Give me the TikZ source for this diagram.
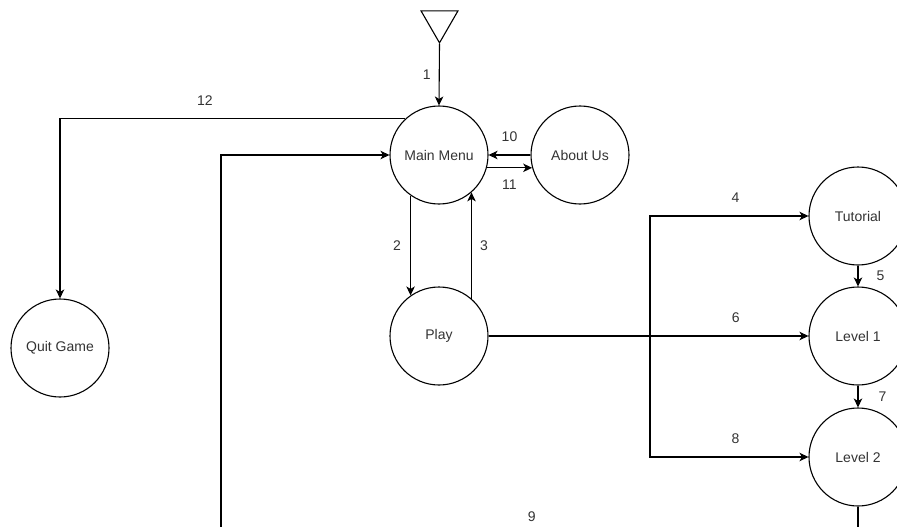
\documentclass[tikz,border=0pt]{standalone}
\usepackage{fontspec}
\setmainfont{Liberation Sans}
\usetikzlibrary{%
		arrows.meta%
		,shapes.geometric%
	}
\definecolor{labelgray}{RGB}{51,51,51}
\tikzset{
	every node/.style={font=\fontsize{14}{16}\selectfont},
	state/.style={draw, circle, minimum size=98pt, inner sep=0pt, line width=1.1pt, text=labelgray},
	entry/.style={draw, regular polygon, regular polygon sides=3, shape border rotate=180, minimum size=42.7pt, inner sep=0pt, line width=1.1pt},
	flow/.style={line width=1.1pt, -{Stealth[length=9pt,width=8.5pt,inset=2.5pt]}},
	num/.style={text=labelgray, inner sep=2pt},
}

\begin{document}
\begin{tikzpicture}[x=1pt,y=-1pt]
			\clip (0,0) rectangle (897,527);
			\node[entry] (start) at (439.5,21.5) {};
			\node[state] (menu) at (439,155) {Main Menu};
			\node[state] (about) at (580,155) {About Us};
			\node[state] (play) at (439,336) {Play};
			\node[state] (quit) at (60,348) {Quit Game};
			\node[state] (tut) at (858,216) {Tutorial};
			\node[state] (lvl1) at (858,336) {Level 1};
			\node[state] (lvl2) at (858,457) {Level 2};
			\coordinate (split) at (650,336);
			\coordinate (back) at (221,537);

			\draw[flow] (start.south) -- (menu.north) node[num,left=6pt,midway]{1};
			\draw[flow] (menu.235) -- (play.125) node[num,left=7pt,midway]{2};
			\draw[flow] (play.49) -- (menu.311) node[num,right=6pt,midway]{3};
			\draw[flow] (split) |- (tut.west) node[num,above=11pt,pos=0.77]{4};
			\draw[flow] (tut.south) -- (lvl1.north) node[num,right=16pt,midway]{5};
			\draw[flow] (play.east) -- (lvl1.west) node[num,above=11pt,pos=0.773]{6};
			\draw[flow] (lvl1.south) -- (lvl2.north) node[num,right=18pt,midway]{7};
			\draw[flow] (split) |- (lvl2.west) node[num,above=11pt,pos=0.77]{8};
			\draw[flow] (lvl2.south) |- (back) node[num,above=13pt,pos=0.756]{9} |- (menu.west);
			\draw[flow] (about.west) -- (menu.east) node[num,above=11pt,midway]{10};
			\draw[flow] (menu.345) -- (about.195) node[num,below=9pt,midway]{11};
			\draw[flow] (menu.133) -| (quit.north) node[num,above=11pt,pos=0.29]{12};
		\end{tikzpicture}
\end{document}
